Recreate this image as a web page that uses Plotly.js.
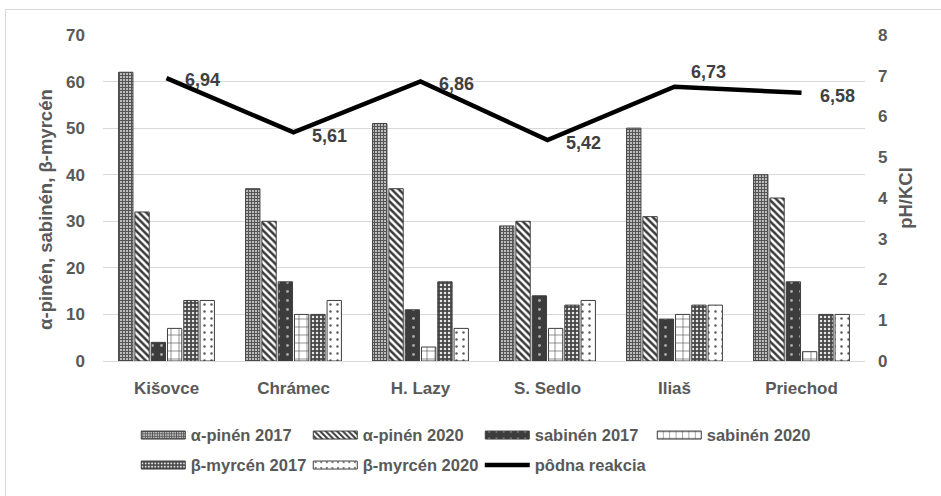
<!DOCTYPE html>
<html>
<head>
<meta charset="utf-8">
<script src="https://cdn.plot.ly/plotly-3.0.1.min.js"></script>
<style>
  html, body { margin: 0; padding: 0; background: #fff; }
  #wrap { position: relative; width: 941px; height: 496px; overflow: hidden; }
  #frame { position: absolute; left: 5px; top: 9px; right: -2px; bottom: -2px;
           border-left: 1px solid #d9d9d9; border-top: 1px solid #d9d9d9; pointer-events: none; }
  #chart { position: absolute; left: 0; top: 0; width: 941px; height: 496px; }
</style>
</head>
<body>
<div id="wrap">
  <div id="chart"></div>
  <div id="frame"></div>
</div>
<script>
// Sampling sites
const sites = ["Kišovce", "Chrámec", "H. Lazy", "S. Sedlo", "Iliaš", "Priechod"];

// Monoterpene content per site
const alphaPinene2017 = [62, 37, 51, 29, 50, 40];
const alphaPinene2020 = [32, 30, 37, 30, 31, 35];
const sabinene2017    = [4, 17, 11, 14, 9, 17];
const sabinene2020    = [7, 10, 3, 7, 10, 2];
const betaMyrcene2017 = [13, 10, 17, 12, 12, 10];
const betaMyrcene2020 = [13, 13, 7, 13, 12, 10];

// Soil reaction (pH/KCl)
const soilPH = [6.94, 5.61, 6.86, 5.42, 6.73, 6.58];
const soilPHLabels = ["6,94", "5,61", "6,86", "5,42", "6,73", "6,58"];

const seriesNames = ["α-pinén 2017", "α-pinén 2020", "sabinén 2017", "sabinén 2020",
                     "β-myrcén 2017", "β-myrcén 2020", "pôdna reakcia"];

const FONT = "Liberation Sans, Arial, sans-serif";
const TXT = "#595959";
const EDGE = "#3f3f3f";

function barTrace(name, values, pattern, legendId) {
  return {
    type: "bar",
    name: name,
    x: sites,
    y: values,
    yaxis: "y",
    legend: legendId,
    marker: {
      color: pattern.bgcolor,
      line: { color: EDGE, width: 1 },
      pattern: pattern
    },
    hoverinfo: "x+y+name"
  };
}

const traces = [
  barTrace(seriesNames[0], alphaPinene2017,
    { shape: "+", fgcolor: "#555555", bgcolor: "#ffffff", size: 3, solidity: 0.7 }, "legend"),
  barTrace(seriesNames[1], alphaPinene2020,
    { shape: "\\", fgcolor: "#3a3a3a", bgcolor: "#ffffff", size: 5, solidity: 0.5 }, "legend"),
  barTrace(seriesNames[2], sabinene2017,
    { shape: ".", fgcolor: "#a8a8a8", bgcolor: "#3c3c3c", size: 9, solidity: 0.08 }, "legend"),
  barTrace(seriesNames[3], sabinene2020,
    { shape: "+", fgcolor: "#505050", bgcolor: "#ffffff", size: 8, solidity: 0.15 }, "legend"),
  barTrace(seriesNames[4], betaMyrcene2017,
    { shape: ".", fgcolor: "#e8e8e8", bgcolor: "#474747", size: 4, solidity: 0.3 }, "legend2"),
  barTrace(seriesNames[5], betaMyrcene2020,
    { shape: ".", fgcolor: "#5a5a5a", bgcolor: "#ffffff", size: 7, solidity: 0.1 }, "legend2"),
  {
    type: "scatter",
    mode: "lines",
    name: seriesNames[6],
    x: sites,
    y: soilPH,
    yaxis: "y2",
    legend: "legend2",
    line: { color: "#000000", width: 4.5 },
    hoverinfo: "x+y"
  }
];

// Value labels for the soil reaction line
const labelShift = [
  { xs: 16, ys: -2 }, { xs: 16, ys: -4 }, { xs: 16, ys: -3 },
  { xs: 16, ys: -3 }, { xs: 14, ys: 15 }, { xs: 16, ys: -3 }
];
const annotations = sites.map((s, i) => ({
  x: s,
  y: soilPH[i],
  xref: "x",
  yref: "y2",
  text: soilPHLabels[i],
  showarrow: false,
  xanchor: "left",
  yanchor: "middle",
  xshift: labelShift[i].xs,
  yshift: labelShift[i].ys,
  font: { family: FONT, size: 18, color: "#404040", weight: "bold" }
}));

// Left value-axis title
annotations.push({
  xref: "paper",
  yref: "paper",
  x: -0.0755,
  y: 0.465,
  xanchor: "center",
  yanchor: "middle",
  textangle: -90,
  showarrow: false,
  text: "α-pinén, sabinén, β-myrcén",
  font: { family: FONT, size: 18.5, color: TXT, weight: "bold" }
});

const legendCommon = {
  orientation: "h",
  xanchor: "left",
  yanchor: "middle",
  entrywidthmode: "pixels",
  entrywidth: 112,
  itemwidth: 45,
  font: { family: FONT, size: 16.5, color: TXT, weight: "bold" },
  bgcolor: "rgba(0,0,0,0)"
};

const layout = {
  width: 941,
  height: 496,
  margin: { l: 103, r: 76, t: 35, b: 135 },
  paper_bgcolor: "#ffffff",
  plot_bgcolor: "#ffffff",
  font: { family: FONT, size: 17, color: TXT, weight: "bold" },
  barmode: "group",
  bargap: 0.23,
  bargroupgap: 0.12,
  showlegend: true,
  xaxis: {
    type: "category",
    showgrid: false,
    showline: false,
    zeroline: false,
    ticks: "",
    ticklabelstandoff: 15,
    tickfont: { family: FONT, size: 17, color: TXT, weight: "bold" }
  },
  yaxis: {
    range: [0, 70],
    dtick: 10,
    tick0: 0,
    showgrid: true,
    gridcolor: "#d9d9d9",
    gridwidth: 1,
    zeroline: true,
    zerolinecolor: "#d9d9d9",
    showline: false,
    ticks: "",
    ticklabelstandoff: 17,
    tickfont: { family: FONT, size: 17, color: TXT, weight: "bold" },
    fixedrange: true
  },
  yaxis2: {
    overlaying: "y",
    side: "right",
    range: [0, 8],
    dtick: 1,
    tick0: 0,
    showgrid: false,
    zeroline: false,
    showline: false,
    ticks: "",
    ticklabelstandoff: 12,
    tickfont: { family: FONT, size: 17, color: TXT, weight: "bold" },
    title: {
      text: "pH/KCl",
      standoff: 12,
      font: { family: FONT, size: 18.5, color: TXT, weight: "bold" }
    },
    fixedrange: true
  },
  legend: Object.assign({}, legendCommon, { x: 0.043, y: -0.228 }),
  legend2: Object.assign({}, legendCommon, { x: 0.043, y: -0.32 }),
  annotations: annotations
};

Plotly.newPlot("chart", traces, layout, { displayModeBar: false, staticPlot: true }).then(gd => {
  // Wide, flat legend swatches for the bar series
  gd.querySelectorAll("g.legendpoints path").forEach(p => {
    const d = p.getAttribute("d") || "";
    if (d.indexOf("M6,6H-6V-6H6Z") === 0) {
      p.setAttribute("d", "M22,4H-22V-4H22Z");
    }
  });
  // Let the last legend label run past its fixed entry width
  gd.querySelectorAll(".infolayer g.scrollbox").forEach(g => g.removeAttribute("clip-path"));
  gd.querySelectorAll(".infolayer g.legend, .infolayer g.legend2").forEach(g => {
    g.querySelectorAll("[clip-path]").forEach(c => c.removeAttribute("clip-path"));
  });
});
</script>
</body>
</html>
